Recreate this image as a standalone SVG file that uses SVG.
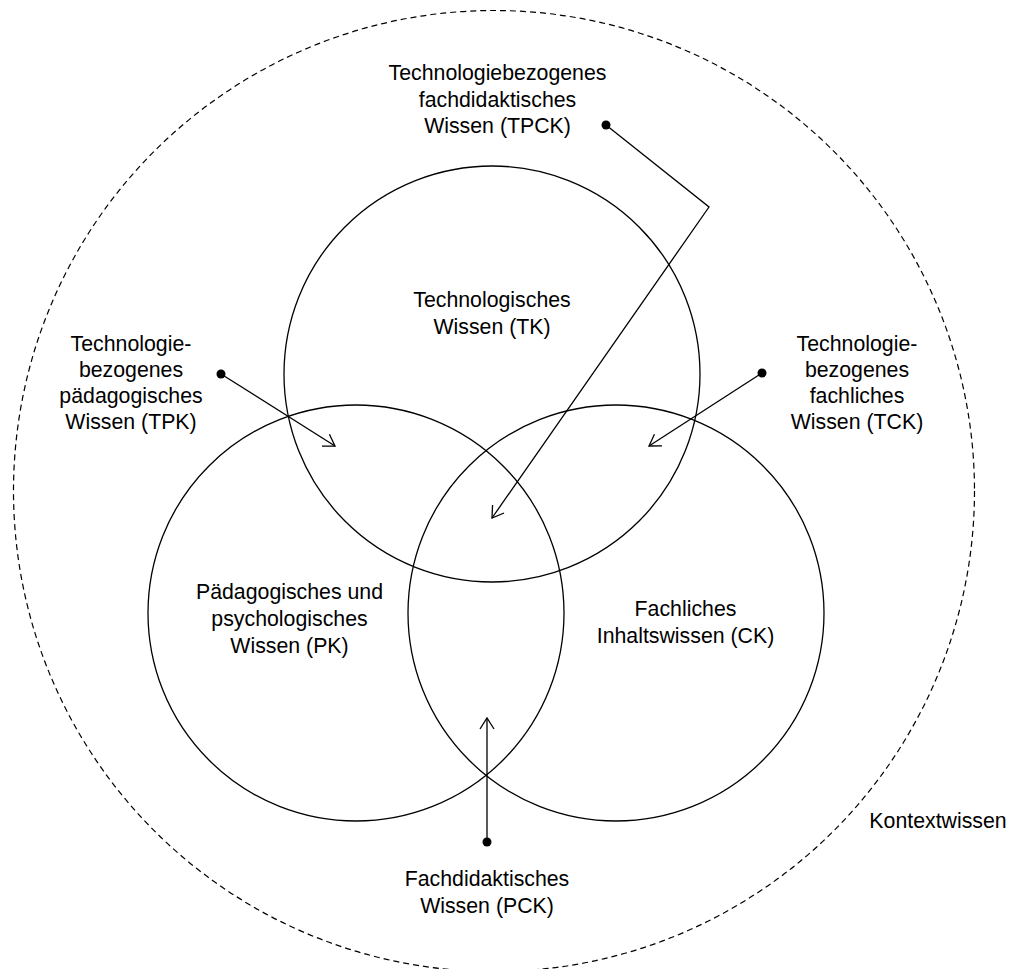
<svg xmlns="http://www.w3.org/2000/svg" width="1019" height="969" viewBox="0 0 1019 969">
<style>
.c{fill:none;stroke:#000;stroke-width:1.3}
.d{fill:none;stroke:#000;stroke-width:1.2;stroke-dasharray:6 4}
.t{font-family:"Liberation Sans",Arial,sans-serif;font-size:21.3px;fill:#000;text-anchor:middle}
.l{fill:none;stroke:#000;stroke-width:1.3}
.dot{fill:#000}
</style>
<defs>
<marker id="open" markerWidth="16" markerHeight="16" refX="12" refY="8" orient="auto" markerUnits="userSpaceOnUse" viewBox="0 0 16 16">
<path d="M1,1 L12,8 L1,15" fill="none" stroke="#000" stroke-width="1.3"/>
</marker>
</defs>
<rect width="1019" height="969" fill="#fff"/>
<g id="context">
<circle class="d" cx="494" cy="491" r="480.5"/>
<text class="t" x="938" y="828">Kontextwissen</text>
</g>
<g id="tk">
<circle class="c" cx="492" cy="374" r="208"/>
<text class="t" x="492" y="307">Technologisches</text>
<text class="t" x="492" y="334">Wissen (TK)</text>
</g>
<g id="pk">
<circle class="c" cx="356" cy="613" r="208"/>
<text class="t" x="289.5" y="599">Pädagogisches und</text>
<text class="t" x="289.5" y="626">psychologisches</text>
<text class="t" x="289.5" y="653">Wissen (PK)</text>
</g>
<g id="ck">
<circle class="c" cx="616" cy="613" r="208"/>
<text class="t" x="685.5" y="616">Fachliches</text>
<text class="t" x="685.5" y="643">Inhaltswissen (CK)</text>
</g>
<g id="tpck">
<text class="t" x="497.5" y="80">Technologiebezogenes</text>
<text class="t" x="497.5" y="107">fachdidaktisches</text>
<text class="t" x="497.5" y="133">Wissen (TPCK)</text>
</g>
<g id="tpk">
<text class="t" x="131" y="351">Technologie-</text>
<text class="t" x="131" y="377">bezogenes</text>
<text class="t" x="131" y="403">pädagogisches</text>
<text class="t" x="131" y="429">Wissen (TPK)</text>
</g>
<g id="tck">
<text class="t" x="857" y="351">Technologie-</text>
<text class="t" x="857" y="377">bezogenes</text>
<text class="t" x="857" y="403">fachliches</text>
<text class="t" x="857" y="429">Wissen (TCK)</text>
</g>
<g id="pck">
<text class="t" x="487" y="886">Fachdidaktisches</text>
<text class="t" x="487" y="913">Wissen (PCK)</text>
</g>
<g id="connectors">
<polyline class="l" points="606,125 709,207 492,518" marker-end="url(#open)"/>
<circle class="dot" cx="606" cy="125" r="4.5"/>
<line class="l" x1="221" y1="374" x2="335" y2="446" marker-end="url(#open)"/>
<circle class="dot" cx="221" cy="374" r="4.5"/>
<line class="l" x1="762" y1="373" x2="649" y2="446" marker-end="url(#open)"/>
<circle class="dot" cx="762" cy="373" r="4.5"/>
<line class="l" x1="487" y1="842" x2="487" y2="718" marker-end="url(#open)"/>
<circle class="dot" cx="487" cy="842" r="4.5"/>
</g>
</svg>
